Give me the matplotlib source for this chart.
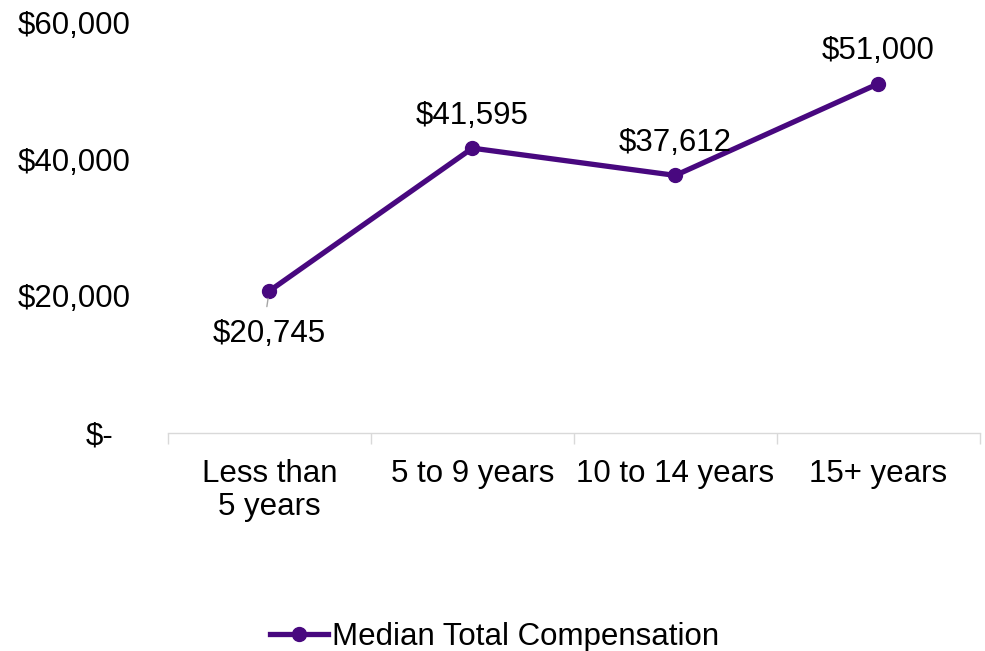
import matplotlib
matplotlib.use("Agg")
import matplotlib.pyplot as plt
import matplotlib.transforms as mtransforms
from matplotlib.lines import Line2D

plt.rcParams['font.family'] = ['Liberation Sans', 'DejaVu Sans']

categories = ["Less than\n5 years", "5 to 9 years", "10 to 14 years", "15+ years"]
values = [20745, 41595, 37612, 51000]
series_name = "Median Total Compensation"
y_ticks = [0, 20000, 40000, 60000]
y_tick_labels = ["$-", "$20,000", "$40,000", "$60,000"]

line_color = "#48087f"
grid_gray = "#d9d9d9"
fs = 22.5

fig = plt.figure(figsize=(9.85, 6.51), dpi=100)
ax = fig.add_axes([0.1706, 0.335, 0.824, 0.631])

x = list(range(len(categories)))
ax.plot(x, values, color=line_color, lw=3.8, marker="o", markersize=10,
        solid_capstyle="round", zorder=3)

ax.set_xlim(-0.5, len(categories) - 0.5)
ax.set_ylim(y_ticks[0], y_ticks[-1])

# y axis: labels only, no spine or tick marks
ax.set_yticks(y_ticks)
ax.set_yticklabels(y_tick_labels, fontsize=fs)
ax.tick_params(axis="y", length=0, pad=27)
# accounting-style "$-" sits a little left of the other labels
zero_lbl = ax.get_yticklabels()[0]
zero_lbl.set_transform(zero_lbl.get_transform() +
                       mtransforms.ScaledTranslation(-17 / 100, 0, fig.dpi_scale_trans))

# x axis: category labels centered, tick marks at category boundaries
ax.set_xticks(x)
ax.set_xticklabels(categories, fontsize=fs, linespacing=1.1)
ax.tick_params(axis="x", length=0, pad=19)
ax.set_xticks([i - 0.5 for i in range(len(categories) + 1)], minor=True)
ax.tick_params(axis="x", which="minor", length=8, width=1, color=grid_gray)

for s in ["top", "right", "left"]:
    ax.spines[s].set_visible(False)
ax.spines["bottom"].set_color(grid_gray)
ax.spines["bottom"].set_linewidth(1)

# data labels
for i, v in enumerate(values):
    txt = f"${v:,.0f}"
    if i == 0:
        ax.annotate(txt, xy=(i, v), xytext=(0, -31), textcoords="offset points",
                    ha="center", va="center", fontsize=fs, clip_on=False)
        ax.annotate("", xy=(i - 0.005, v - 700), xytext=(i - 0.015, v - 2700),
                    arrowprops=dict(arrowstyle="-", color="#a6a6a6", lw=1))
    else:
        ax.annotate(txt, xy=(i, v), xytext=(0, 23.5), textcoords="offset points",
                    ha="center", va="center", fontsize=fs, clip_on=False)

handle = Line2D([], [], color=line_color, lw=3.8, marker="o", markersize=10)
fig.legend([handle], [series_name], loc="center", bbox_to_anchor=(0.502, 0.022),
           frameon=False, fontsize=fs, handlelength=1.85, handletextpad=0.12)

fig.savefig("out.png", dpi=100, facecolor="white")
